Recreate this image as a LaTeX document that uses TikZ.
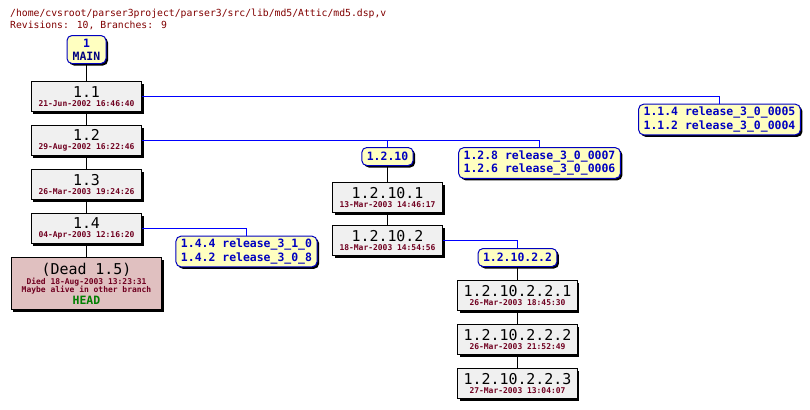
\documentclass[tikz,border=0pt]{standalone}
\usepackage{fontspec}
\usepackage{xcolor}
\usepackage{tikz}
\usetikzlibrary{positioning, shadows}
\newfontfamily\cvsfont{DejaVu Sans Mono}
\definecolor{headred}{RGB}{128,0,0}
\definecolor{datered}{RGB}{112,0,32}
\definecolor{tagblue}{RGB}{0,0,192}
\definecolor{mainblue}{RGB}{0,0,128}
\definecolor{linkblue}{RGB}{0,0,255}
\definecolor{tagfill}{RGB}{255,255,192}
\definecolor{revfill}{RGB}{240,240,240}
\definecolor{deadfill}{RGB}{224,192,192}
\definecolor{headgreen}{RGB}{0,128,0}
\tikzstyle{shd}=[%
      drop shadow={shadow xshift=2bp, shadow yshift=-2bp, fill=black, opacity=1}
]
\tikzstyle{rv}=[%
      rectangle, draw=black, line width=1bp, fill=revfill, shd,
      minimum height=30bp, minimum width=110bp, inner xsep=6bp, inner ysep=2bp,
      align=center, font=\cvsfont\fontsize{8}{9}\selectfont
]
\tikzstyle{dd}=[%
      rv, fill=deadfill, minimum width=150bp, minimum height=52bp
]
\tikzstyle{tg}=[%
      rectangle, rounded corners=5bp, draw=tagblue, line width=1bp, fill=tagfill, shd,
      minimum height=18bp, inner xsep=5bp, inner ysep=3bp, align=left, text=tagblue,
      font=\cvsfont\bfseries\fontsize{11.5}{13.3}\selectfont
]
\tikzstyle{hd}=[%
      anchor=base west, inner sep=0pt, text=headred,
      font=\cvsfont\fontsize{9.8}{11}\selectfont
]
\tikzstyle{trunk}=[draw=black, line width=1bp]
\tikzstyle{br}=[draw=linkblue, line width=1bp]
\newcommand{\revtext}[2]{{\fontsize{15}{9}\selectfont #1}\\{\bfseries\color{datered}#2}}

\begin{document}
\begin{tikzpicture}[x=1bp, y=-1bp]
    \useasboundingbox (0,0) rectangle (810,409);

    \node[hd] (fname)  at (10,16.7) {/home/cvsroot/parser3project/parser3/src/lib/md5/Attic/md5.dsp,v};
    \node[hd] (counts) at (10,28.3) {Revisions: 10, Branches: 9};

    % trunk
    \node[rv] (r11) at (86.5,96.5) {\revtext{1.1}{21-Jun-2002 16:46:40}};
    \node[tg, align=center, minimum width=39bp, minimum height=28bp] (r1) [above=17bp of r11]
        {1\\{\color{mainblue}MAIN}};
    \node[rv] (r12) [below=13bp of r11] {\revtext{1.2}{29-Aug-2002 16:22:46}};
    \node[rv] (r13) [below=13bp of r12] {\revtext{1.3}{26-Mar-2003 19:24:26}};
    \node[rv] (r14) [below=13bp of r13] {\revtext{1.4}{04-Apr-2003 12:16:20}};
    \node[dd] (r15) [below=13bp of r14]
        {{\fontsize{15}{9}\selectfont (Dead 1.5)}\\[1pt]
         {\bfseries\color{datered}Died 18-Aug-2003 13:23:31}\\[-1pt]
         {\bfseries\color{datered}Maybe alive in other branch}\\[1pt]
         {\bfseries\fontsize{11.5}{9}\selectfont\color{headgreen}HEAD}};

    % branch tags
    \node[tg] (t11) at (719.5,119.5) {1.1.4 release\_3\_0\_0005\\1.1.2 release\_3\_0\_0004};
    \node[tg] (t12) at (539.5,163) {1.2.8 release\_3\_0\_0007\\1.2.6 release\_3\_0\_0006};
    \node[tg] (t14) at (246.5,251.5) {1.4.4 release\_3\_1\_0\\1.4.2 release\_3\_0\_8};

    % branch 1.2.10
    \node[tg] (b1210) at (387.5,156.5) {1.2.10};
    \node[rv] (r12101) [below=16bp of b1210] {\revtext{1.2.10.1}{13-Mar-2003 14:46:17}};
    \node[rv] (r12102) [below=12bp of r12101] {\revtext{1.2.10.2}{18-Mar-2003 14:54:56}};

    % branch 1.2.10.2.2
    \node[tg] (b121022) at (517.5,257.5) {1.2.10.2.2};
    \node[rv] (r1210221) [below=13bp of b121022] {\revtext{1.2.10.2.2.1}{26-Mar-2003 18:45:30}};
    \node[rv] (r1210222) [below=13bp of r1210221] {\revtext{1.2.10.2.2.2}{26-Mar-2003 21:52:49}};
    \node[rv] (r1210223) [below=13bp of r1210222] {\revtext{1.2.10.2.2.3}{27-Mar-2003 13:04:07}};

    \draw[trunk] (r1) -- (r11);
    \draw[trunk] (r11) -- (r12);
    \draw[trunk] (r12) -- (r13);
    \draw[trunk] (r13) -- (r14);
    \draw[trunk] (r14) -- (r15);
    \draw[trunk] (b1210) -- (r12101);
    \draw[trunk] (r12101) -- (r12102);
    \draw[trunk] (b121022) -- (r1210221);
    \draw[trunk] (r1210221) -- (r1210222);
    \draw[trunk] (r1210222) -- (r1210223);

    \draw[br] (r11.east) -| (t11.north);
    \draw[br] (r12.east) -| (t12.north);
    \draw[br] (r12.east) -| (b1210.north);
    \draw[br] (r14.east) -| (t14.north);
    \draw[br] (r12102.east) -| (b121022.north);
\end{tikzpicture}
\end{document}
